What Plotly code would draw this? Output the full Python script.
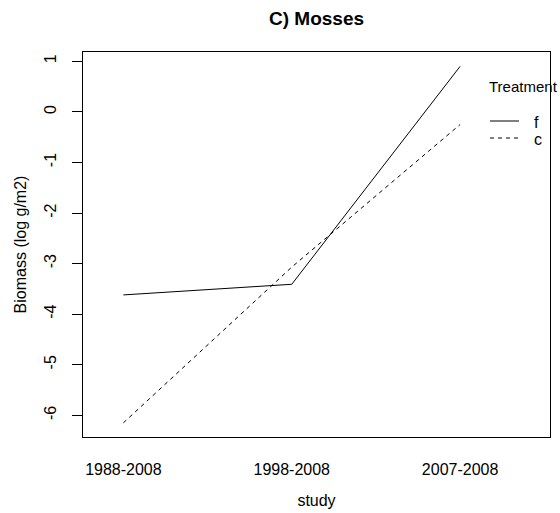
import plotly.graph_objects as go

study = ["1988-2008", "1998-2008", "2007-2008"]
biomass_f = [-3.62, -3.41, 0.90]
biomass_c = [-6.15, -3.07, -0.25]
treatments = ["f", "c"]
y_ticks = [1, 0, -1, -2, -3, -4, -5, -6]

fig = go.Figure()
fig.add_trace(go.Scatter(x=study, y=biomass_f, mode="lines", name=treatments[0], showlegend=False,
                         line=dict(color="black", width=1, dash="solid")))
fig.add_trace(go.Scatter(x=study, y=biomass_c, mode="lines", name=treatments[1], showlegend=False,
                         line=dict(color="black", width=1, dash="4px,4px")))

W, H = 560, 513
L, R, T, B = 83, 10, 52, 76

font = "Liberation Sans, Arial, sans-serif"

# manual legend (R-style, no box)
fig.add_annotation(text="Treatment", xref="paper", yref="paper", x=(487 - L) / (W - L - R),
                   y=1 - (86 - T) / (H - T - B), xanchor="left", yanchor="middle",
                   showarrow=False, font=dict(size=15, color="black"))
for i, (lab, dash) in enumerate(zip(treatments, ["solid", "4px,4px"])):
    yy = [121, 138][i]
    yp = 1 - (yy - T) / (H - T - B)
    fig.add_shape(type="line", xref="paper", yref="paper",
                  x0=(490 - L) / (W - L - R), x1=(519 - L) / (W - L - R), y0=yp, y1=yp,
                  line=dict(color="black", width=1, dash=dash))
    fig.add_annotation(text=lab, xref="paper", yref="paper", x=(532 - L) / (W - L - R),
                       y=1 - (yy + 1 - T) / (H - T - B), xanchor="left", yanchor="middle",
                       showarrow=False, font=dict(size=16, color="black"))

fig.update_layout(
    width=W, height=H,
    margin=dict(l=L, r=R, t=T, b=B, pad=0, autoexpand=False),
    paper_bgcolor="white", plot_bgcolor="white",
    font=dict(family=font, size=16, color="black"),
    title=dict(text="<b>C) Mosses</b>", x=(L + W - R) / 2 / W, xanchor="center",
               y=1 - 18 / H, yanchor="middle", font=dict(size=19, color="black")),
    showlegend=False,
    xaxis=dict(type="category", range=[-0.24, 2.534], showgrid=False, zeroline=False,
               showline=True, linecolor="black", linewidth=1, mirror=True,
               ticks="", tickfont=dict(size=16), ticklabelstandoff=18,
               title=dict(text="study", font=dict(size=16), standoff=17)),
    yaxis=dict(range=[-6.43, 1.184], showgrid=False, zeroline=False,
               showline=True, linecolor="black", linewidth=1, mirror=True,
               tickvals=y_ticks, ticktext=[str(v) for v in y_ticks],
               ticks="outside", ticklen=10, tickcolor="black", tickangle=-90,
               tickfont=dict(size=16), ticklabelstandoff=10,
               title=dict(text="Biomass (log g/m2)", font=dict(size=16), standoff=10)),
)

fig.write_html("out.html")
